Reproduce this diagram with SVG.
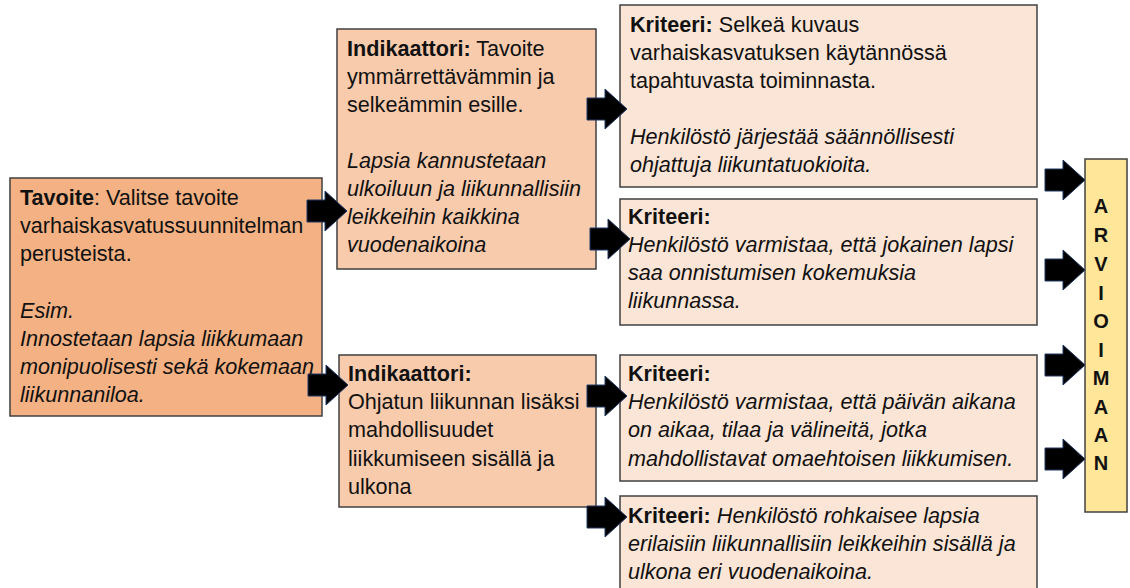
<svg xmlns="http://www.w3.org/2000/svg" width="1130" height="588" viewBox="0 0 1130 588">
<style>
.box{stroke:#404040;stroke-width:1.5}
.t{font-family:"Liberation Sans",Arial,sans-serif;font-size:21.6px;fill:#111}
.b{font-weight:bold}
.i{font-style:italic}
.v{font-family:"Liberation Sans",Arial,sans-serif;font-size:20px;font-weight:bold;fill:#111;text-anchor:middle}
.arr{fill:#000;stroke:#203864;stroke-width:1}
</style>
<defs>
<path id="arrow" d="M-40,-11 L-22,-11 L-22,-20 L0,0 L-22,20 L-22,11 L-40,11 Z"/>
</defs>
<rect width="1130" height="588" fill="#fff"/>

<g id="tavoite">
<rect class="box" x="10" y="178" width="312" height="238" fill="#F4B183"/>
<text class="t" x="20" y="205"><tspan class="b">Tavoite</tspan>: Valitse tavoite</text>
<text class="t" x="20" y="233">varhaiskasvatussuunnitelman</text>
<text class="t" x="20" y="261">perusteista.</text>
<text class="t i" x="20" y="318">Esim.</text>
<text class="t i" x="20" y="346">Innostetaan lapsia liikkumaan</text>
<text class="t i" x="20" y="374">monipuolisesti sekä kokemaan</text>
<text class="t i" x="20" y="402">liikunnaniloa.</text>
</g>

<g id="indikaattori1">
<rect class="box" x="337" y="29" width="259" height="240" fill="#F8CBAD"/>
<text class="t" x="347" y="56"><tspan class="b">Indikaattori:</tspan> Tavoite</text>
<text class="t" x="347" y="84">ymmärrettävämmin ja</text>
<text class="t" x="347" y="112">selkeämmin esille.</text>
<text class="t i" x="347" y="168">Lapsia kannustetaan</text>
<text class="t i" x="347" y="196">ulkoiluun ja liikunnallisiin</text>
<text class="t i" x="347" y="224">leikkeihin kaikkina</text>
<text class="t i" x="347" y="252">vuodenaikoina</text>
</g>

<g id="indikaattori2">
<rect class="box" x="339" y="355" width="257" height="152" fill="#F8CBAD"/>
<text class="t b" x="348" y="381">Indikaattori:</text>
<text class="t" x="348" y="409">Ohjatun liikunnan lisäksi</text>
<text class="t" x="348" y="437">mahdollisuudet</text>
<text class="t" x="348" y="466">liikkumiseen sisällä ja</text>
<text class="t" x="348" y="494">ulkona</text>
</g>

<g id="kriteeri1">
<rect class="box" x="620" y="5" width="417" height="182" fill="#FBE5D6"/>
<text class="t" x="630" y="32"><tspan class="b">Kriteeri:</tspan> Selkeä kuvaus</text>
<text class="t" x="630" y="60">varhaiskasvatuksen käytännössä</text>
<text class="t" x="630" y="88">tapahtuvasta toiminnasta.</text>
<text class="t i" x="630" y="144">Henkilöstö järjestää säännöllisesti</text>
<text class="t i" x="630" y="172">ohjattuja liikuntatuokioita.</text>
</g>

<g id="kriteeri2">
<rect class="box" x="620" y="199" width="417" height="126" fill="#FBE5D6"/>
<text class="t b" x="628" y="224">Kriteeri:</text>
<text class="t i" x="628" y="252">Henkilöstö varmistaa, että jokainen lapsi</text>
<text class="t i" x="628" y="280">saa onnistumisen kokemuksia</text>
<text class="t i" x="628" y="308">liikunnassa.</text>
</g>

<g id="kriteeri3">
<rect class="box" x="620" y="355" width="417" height="126" fill="#FBE5D6"/>
<text class="t b" x="628" y="381">Kriteeri:</text>
<text class="t i" x="628" y="409">Henkilöstö varmistaa, että päivän aikana</text>
<text class="t i" x="628" y="437">on aikaa, tilaa ja välineitä, jotka</text>
<text class="t i" x="628" y="466">mahdollistavat omaehtoisen liikkumisen.</text>
</g>

<g id="kriteeri4">
<rect class="box" x="620" y="496" width="417" height="110" fill="#FBE5D6"/>
<text class="t" x="628" y="523"><tspan class="b">Kriteeri:</tspan> <tspan class="i">Henkilöstö rohkaisee lapsia</tspan></text>
<text class="t i" x="628" y="551">erilaisiin liikunnallisiin leikkeihin sisällä ja</text>
<text class="t i" x="628" y="579">ulkona eri vuodenaikoina.</text>
</g>

<g id="arvioimaan">
<rect class="box" x="1085" y="159" width="42" height="353" fill="#FFE699"/>
<text class="v" x="1101" y="213">A</text>
<text class="v" x="1101" y="242">R</text>
<text class="v" x="1101" y="271">V</text>
<text class="v" x="1101" y="300">I</text>
<text class="v" x="1101" y="328">O</text>
<text class="v" x="1101" y="357">I</text>
<text class="v" x="1101" y="385">M</text>
<text class="v" x="1101" y="414">A</text>
<text class="v" x="1101" y="442">A</text>
<text class="v" x="1101" y="470">N</text>
</g>

<g id="connectors">
<use href="#arrow" class="arr" transform="translate(347,211)"/>
<use href="#arrow" class="arr" transform="translate(348,385)"/>
<use href="#arrow" class="arr" transform="translate(627,109)"/>
<use href="#arrow" class="arr" transform="translate(630,239)"/>
<use href="#arrow" class="arr" transform="translate(627,396)"/>
<use href="#arrow" class="arr" transform="translate(627,517)"/>
<use href="#arrow" class="arr" transform="translate(1085,180)"/>
<use href="#arrow" class="arr" transform="translate(1085,270)"/>
<use href="#arrow" class="arr" transform="translate(1085,365)"/>
<use href="#arrow" class="arr" transform="translate(1085,459)"/>
</g>
</svg>
